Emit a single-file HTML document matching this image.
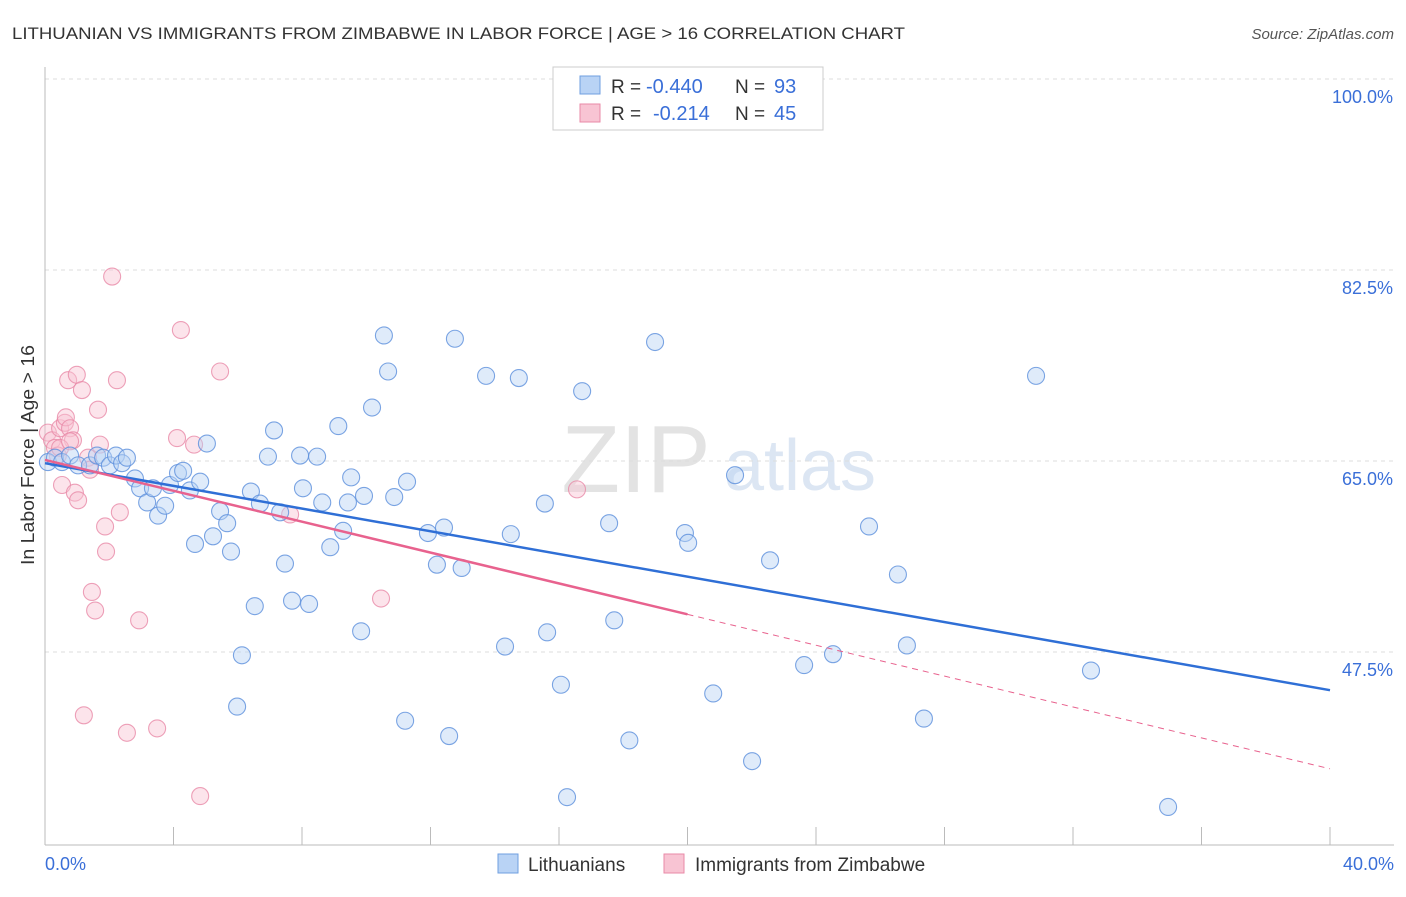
<!DOCTYPE html>
<html><head><meta charset="utf-8"><style>
body{margin:0;background:#fff;font-family:"Liberation Sans",sans-serif}
svg text{font-family:"Liberation Sans",sans-serif}
</style></head><body>
<svg id="chart" width="1406" height="892" xmlns="http://www.w3.org/2000/svg">
<text x="12" y="39" font-size="17" fill="#333" textLength="893" lengthAdjust="spacingAndGlyphs">LITHUANIAN VS IMMIGRANTS FROM ZIMBABWE IN LABOR FORCE | AGE &gt; 16 CORRELATION CHART</text>
<text x="1394" y="39" font-size="15" fill="#555" font-style="italic" text-anchor="end">Source: ZipAtlas.com</text>
<text x="636" y="492" font-size="96" fill="#e3e3e3" font-family="Liberation Serif" text-anchor="middle">ZIP</text>
<text x="800" y="490" font-size="72" fill="#dce6f3" text-anchor="middle">atlas</text>
<g id="grid"></g><g id="axes"></g><g id="marks"></g>
<text x="34" y="455" font-size="18" fill="#333" text-anchor="middle" textLength="220" lengthAdjust="spacingAndGlyphs" transform="rotate(-90 34 455)">In Labor Force | Age &gt; 16</text>
<text x="45" y="870" font-size="18" fill="#3a6fd8">0.0%</text>
<text x="1394" y="870" font-size="18" fill="#3a6fd8" text-anchor="end">40.0%</text>
<g>
<rect x="553" y="67" width="270" height="63" fill="#fff" stroke="#ccc"/>
<rect x="580" y="76" width="20" height="18" fill="#b9d3f5" stroke="#6f9fe0"/>
<rect x="580" y="104" width="20" height="18" fill="#f8c4d3" stroke="#e98aa7"/>
<text x="611" y="93" font-size="19" fill="#333">R =</text>
<text x="646" y="93" font-size="20" fill="#3a6fd8">-0.440</text>
<text x="735" y="93" font-size="19" fill="#333">N =</text>
<text x="774" y="93" font-size="20" fill="#3a6fd8">93</text>
<text x="611" y="120" font-size="19" fill="#333">R =</text>
<text x="653" y="120" font-size="20" fill="#3a6fd8">-0.214</text>
<text x="735" y="120" font-size="19" fill="#333">N =</text>
<text x="774" y="120" font-size="20" fill="#3a6fd8">45</text>
</g>
<g>
<rect x="498" y="854" width="20" height="19" fill="#b9d3f5" stroke="#6f9fe0"/>
<text x="528" y="871" font-size="19" fill="#333">Lithuanians</text>
<rect x="664" y="854" width="20" height="19" fill="#f8c4d3" stroke="#e98aa7"/>
<text x="695" y="871" font-size="19" fill="#333">Immigrants from Zimbabwe</text>
</g>
</svg>
<script>
const yTicks=[100,82.5,65,47.5];
const yTickLabels=["100.0%","82.5%","65.0%","47.5%"];
const xTicks=[0,4,8,12,16,20,24,28,32,36,40];
const blueX=[0.09,0.31,0.53,0.78,1.03,1.40,1.62,1.81,2.02,2.21,2.40,2.55,2.80,2.96,3.18,3.36,3.52,3.74,3.89,4.14,4.30,4.51,4.67,4.83,5.04,5.23,5.45,5.67,5.79,5.98,6.13,6.41,6.53,6.69,6.94,7.13,7.32,7.47,7.69,7.94,8.03,8.22,8.47,8.63,8.88,9.13,9.28,9.43,9.53,9.84,9.93,10.18,10.55,10.68,10.87,11.21,11.27,11.92,12.20,12.42,12.58,12.76,12.97,13.73,14.32,14.50,14.75,15.56,15.63,16.06,16.25,16.72,17.56,17.72,18.19,18.99,19.92,20.02,20.80,21.48,22.01,22.57,23.63,24.53,25.65,26.55,26.83,27.36,30.85,32.56,34.96];
const blueY=[64.9,65.3,64.9,65.5,64.6,64.6,65.5,65.3,64.6,65.5,64.8,65.3,63.4,62.5,61.2,62.5,60.0,60.9,62.8,63.9,64.1,62.3,57.4,63.1,66.6,58.1,60.4,59.3,56.7,42.5,47.2,62.2,51.7,61.1,65.4,67.8,60.3,55.6,52.2,65.5,62.5,51.9,65.4,61.2,57.1,68.2,58.6,61.2,63.5,49.4,61.8,69.9,76.5,73.2,61.7,41.2,63.1,58.4,55.5,58.9,39.8,76.2,55.2,72.8,48.0,58.3,72.6,61.1,49.3,44.5,34.2,71.4,59.3,50.4,39.4,75.9,58.4,57.5,43.7,63.7,37.5,55.9,46.3,47.3,59.0,54.6,48.1,41.4,72.8,45.8,33.3];
const pinkX=[0.09,0.22,0.31,0.40,0.47,0.53,0.62,0.65,0.72,0.78,0.87,0.93,0.99,1.03,1.15,1.34,1.40,1.46,1.56,1.21,1.65,1.71,1.87,1.90,2.09,2.24,2.33,2.55,2.93,3.49,4.11,4.23,4.64,4.83,5.45,7.63,10.46,16.56,0.47,0.78];
const pinkY=[67.6,66.9,66.2,65.5,68.0,62.8,68.5,69.0,72.4,68.0,66.9,62.1,72.9,61.4,71.5,65.3,64.2,53.0,51.3,41.7,69.7,66.5,59.0,56.7,81.9,72.4,60.3,40.1,50.4,40.5,67.1,77.0,66.5,34.3,73.2,60.1,52.4,62.4,66.2,66.8];
const blueTrend=[64.8,44.0];
const pinkTrend=[65.1,36.8];
const pinkSolidEnd=20;
const NS="http://www.w3.org/2000/svg";
const xs=v=>45+v/40*1285, ys=v=>79+(100-v)*191/17.5;
function mk(t,a,p){const e=document.createElementNS(NS,t);for(const k in a)e.setAttribute(k,a[k]);p.appendChild(e);return e;}
const grid=document.getElementById('grid'),axes=document.getElementById('axes'),marks=document.getElementById('marks');
yTicks.forEach((v,i)=>{
 const l=mk('line',{x1:45,x2:1394,y1:ys(v),y2:ys(v),stroke:'#ddd','stroke-dasharray':'4 4'},grid);
 
 
 const t=mk('text',{x:1393,y:ys(v)+24,'font-size':18,fill:'#3a6fd8','text-anchor':'end'},axes);
 t.textContent=yTickLabels[i];
 
 
});
const ax=mk('line',{x1:45,x2:1394,y1:845,y2:845,stroke:'#bbb'},axes);


const ay=mk('line',{x1:45,x2:45,y1:67,y2:845,stroke:'#bbb'},axes);


xTicks.forEach(v=>{const t=mk('line',{x1:xs(v),x2:xs(v),y1:827,y2:845,stroke:'#bbb'},axes);
 
 });
function dots(X,Y,f,s,name){X.forEach((x,i)=>{const c=mk('circle',{cx:xs(x),cy:ys(Y[i]),r:8.5,fill:f,'fill-opacity':0.45,stroke:s,'stroke-opacity':0.8,'stroke-width':1.1},marks);
 
 });}
dots(pinkX,pinkY,'#f8c4d3','#e98aa7','zimbabwe-point');
dots(blueX,blueY,'#b9d3f5','#5b8fdc','lithuanian-point');
const bl=mk('line',{x1:xs(0),y1:ys(blueTrend[0]),x2:xs(40),y2:ys(blueTrend[1]),stroke:'#2f6fd6','stroke-width':2.5},marks);


const pm=pinkTrend[0]+(pinkTrend[1]-pinkTrend[0])*pinkSolidEnd/40;
const pl=mk('line',{x1:xs(0),y1:ys(pinkTrend[0]),x2:xs(pinkSolidEnd),y2:ys(pm),stroke:'#e8628e','stroke-width':2.5},marks);


const pd=mk('line',{x1:xs(pinkSolidEnd),y1:ys(pm),x2:xs(40),y2:ys(pinkTrend[1]),stroke:'#e8628e','stroke-width':1,'stroke-dasharray':'6 5'},marks);


</script>
</body></html>
